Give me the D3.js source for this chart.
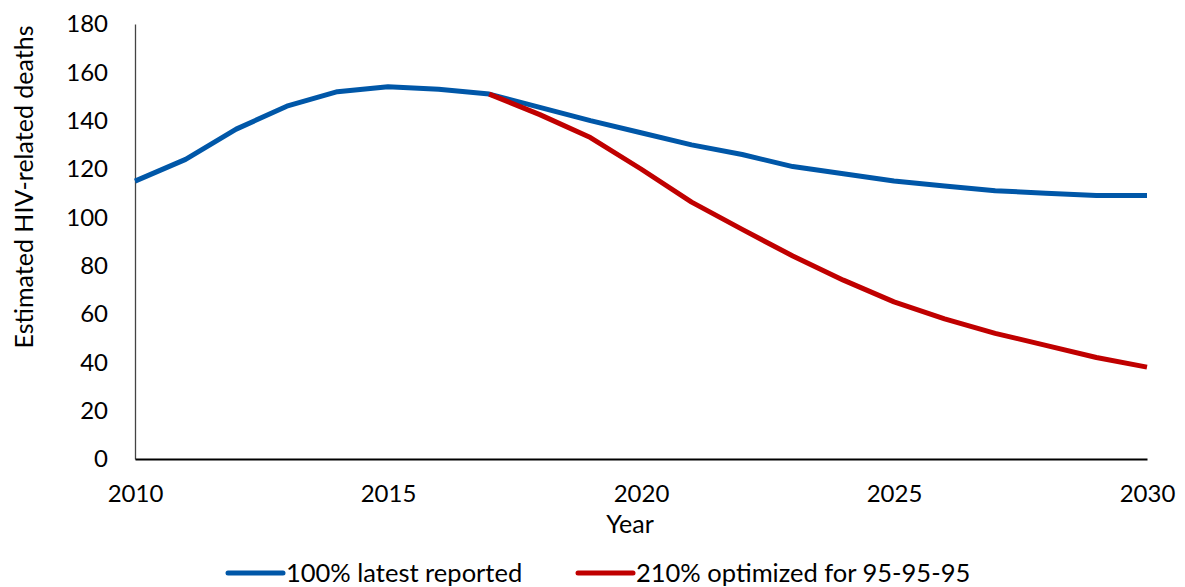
<!DOCTYPE html>
<html><head><meta charset="utf-8">
<script src="https://cdn.jsdelivr.net/npm/d3@7"></script>
<style>body{margin:0;background:#fff}svg text{font-family:Lato,"Open Sans",sans-serif;fill:#000}</style>
</head><body>
<svg id="c" width="1185" height="587"></svg>
<script>
const years = d3.range(2010, 2031);
const latestReported = [115,124,136.5,146,152,154,153,151,145.5,140,135,130,126,121,118,115,113,111,110,109,109];
const optYears = d3.range(2017, 2031);
const optimized = [151,142.5,133,120,106.3,95,84,74,65,58,52,47,42,38];
const yTicks = [0,20,40,60,80,100,120,140,160,180];
const xTicks = [2010,2015,2020,2025,2030];
const seriesNames = ["100% latest reported","210% optimized for 95-95-95"];
const colors = ["#0057A8","#C00000"];

const svg = d3.select("#c");
const x = d3.scaleLinear().domain([2010,2030]).range([135,1147]);
const y = d3.scaleLinear().domain([0,180]).range([459,24]);

// y axis
const ya = svg.append("g").attr("transform","translate(135,0)")
  .call(d3.axisLeft(y).tickValues(yTicks).tickSize(0).tickPadding(27));
ya.select(".domain").attr("stroke","#444").attr("stroke-width",1.3);
ya.selectAll("text").style("font-size","24px").style("font-family","Lato");

// x axis
const xa = svg.append("g").attr("transform","translate(0,459)")
  .call(d3.axisBottom(x).tickValues(xTicks).tickFormat(d3.format("d")).tickSize(0).tickPadding(26));
xa.select(".domain").attr("stroke","#000").attr("stroke-width",2.2);
xa.selectAll("text").style("font-size","24px").style("font-family","Lato");

const line = d3.line().x(d=>x(d[0])).y(d=>y(d[1]));
svg.append("path").datum(years.map((d,i)=>[d,latestReported[i]]))
  .attr("d",line).attr("fill","none").attr("stroke",colors[0]).attr("stroke-width",5).attr("stroke-linejoin","round");
svg.append("path").datum(optYears.map((d,i)=>[d,optimized[i]]))
  .attr("d",line).attr("fill","none").attr("stroke",colors[1]).attr("stroke-width",5).attr("stroke-linejoin","round");

// titles
svg.append("text").attr("transform","translate(33,187) rotate(-90)").attr("text-anchor","middle")
  .style("font-size","25px").text("Estimated HIV-related deaths");
svg.append("text").attr("x",630).attr("y",533).attr("text-anchor","middle")
  .style("font-size","25px").text("Year");

// legend
const legX = [228,578];
seriesNames.forEach((n,i)=>{
  const g = svg.append("g");
  g.append("line").attr("x1",legX[i]).attr("x2",legX[i]+55).attr("y1",573).attr("y2",573)
    .attr("stroke",colors[i]).attr("stroke-width",5).attr("stroke-linecap","round");
  g.append("text").attr("x",legX[i]+58).attr("y",582).style("font-size","25.5px").text(n);
});
</script>
</body></html>
